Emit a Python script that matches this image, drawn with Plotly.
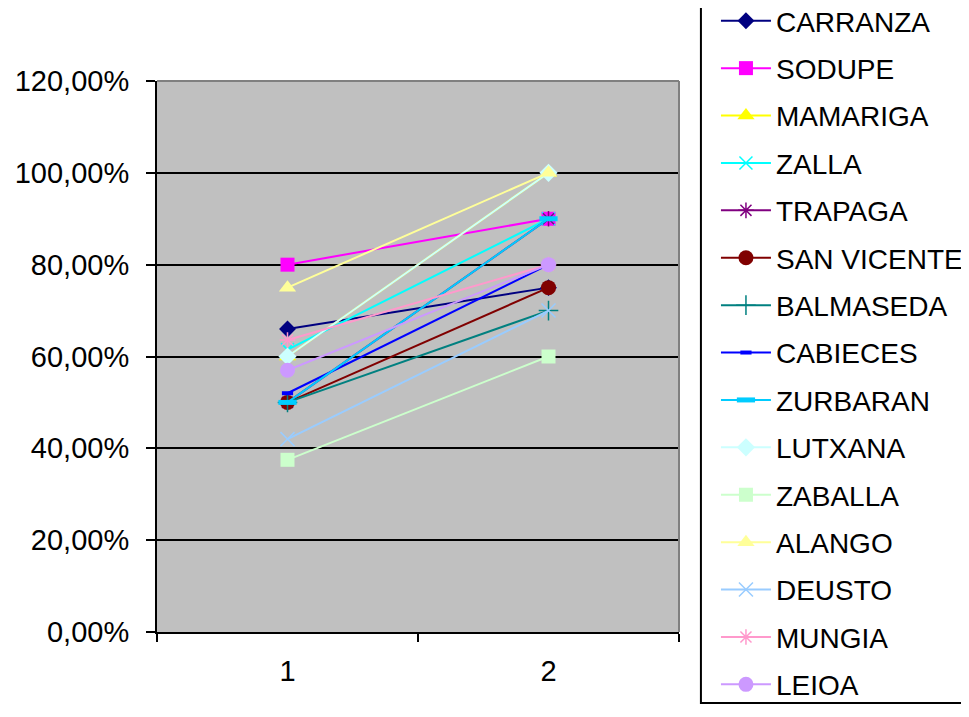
import plotly.graph_objects as go

x_vals = [1, 2]
names = ["CARRANZA", "SODUPE", "MAMARIGA", "ZALLA", "TRAPAGA", "SAN VICENTE",
         "BALMASEDA", "CABIECES", "ZURBARAN", "LUTXANA", "ZABALLA", "ALANGO",
         "DEUSTO", "MUNGIA", "LEIOA"]
carranza = [0.66, 0.75]
sodupe = [0.80, 0.90]
mamariga = [0.60, 1.00]
zalla = [0.615, 0.90]
trapaga = [0.50, 0.90]
san_vicente = [0.50, 0.75]
balmaseda = [0.50, 0.70]
cabieces = [0.52, 0.80]
zurbaran = [0.50, 0.90]
lutxana = [0.60, 1.00]
zaballa = [0.375, 0.60]
alango = [0.75, 1.00]
deusto = [0.42, 0.70]
mungia = [0.636, 0.80]
leioa = [0.57, 0.80]
series = [carranza, sodupe, mamariga, zalla, trapaga, san_vicente, balmaseda,
          cabieces, zurbaran, lutxana, zaballa, alango, deusto, mungia, leioa]

colors = ["#000080", "#FF00FF", "#FFFF00", "#00FFFF", "#800080", "#800000",
          "#008080", "#0000FF", "#00CCFF", "#CCFFFF", "#CCFFCC", "#FFFF99",
          "#99CCFF", "#FF99CC", "#CC99FF"]
symbols = ["diamond", "square", "triangle-up", "x-thin-open", "asterisk-open",
           "circle", "cross-thin-open", "line-ew-open", "line-ew-open", "diamond",
           "square", "triangle-up", "x-thin-open", "asterisk-open", "circle"]
sizes = [13, 14, 15, 13, 13, 15, 14, 8, 13, 14, 14, 15, 14, 13, 15]
lwidths = [0, 0, 0, 1.5, 1.5, 0, 1.5, 4, 5, 0, 0, 0, 1.5, 1.5, 0]

fig = go.Figure()
for i, (n, v) in enumerate(zip(names, series)):
    fig.add_trace(go.Scatter(
        x=x_vals, y=v, name=n, mode="lines+markers",
        legendgroup=n,
        line=dict(color=colors[i], width=2),
        marker=dict(symbol=symbols[i], size=sizes[i], color=colors[i],
                    line=dict(color=colors[i], width=lwidths[i])),
    ))

# figure is offset by the page's 8px body margin
fig.update_layout(
    width=961, height=709,
    margin=dict(l=149, r=290, t=73, b=85, autoexpand=False),
    paper_bgcolor="white", plot_bgcolor="#C0C0C0",
    font=dict(family="Liberation Sans, Arial", size=29, color="black"),
    separators=",.",
    showlegend=True,
    legend=dict(x=1.0708, xanchor="left", y=1.1542, yanchor="top",
                borderwidth=0, bgcolor="rgba(0,0,0,0)",
                tracegroupgap=8, itemwidth=50, maxheight=2000,
                font=dict(size=28, family="Liberation Sans, Arial")),
    xaxis=dict(range=[0.5, 2.5], tickvals=[1, 2], ticktext=["1", "2"],
               ticks="", showgrid=False, zeroline=False,
               showline=True, linecolor="black", linewidth=2,
               ticklabelstandoff=12,
               minor=dict(tickvals=[0.5, 1.5, 2.5], ticks="outside",
                          ticklen=8, tickwidth=2, tickcolor="black")),
    yaxis=dict(range=[0, 1.2], tickvals=[0, 0.2, 0.4, 0.6, 0.8, 1.0, 1.2],
               tickformat=".2%", ticks="outside", ticklen=9, tickwidth=2,
               tickcolor="black", showgrid=True, gridcolor="black", gridwidth=2,
               zeroline=False, showline=True, linecolor="black", linewidth=2,
               ticklabelstandoff=11),
    shapes=[
        dict(type="line", xref="paper", yref="paper", x0=0, x1=1, y0=1, y1=1,
             line=dict(color="#808080", width=2)),
        dict(type="line", xref="paper", yref="paper", x0=1, x1=1, y0=0, y1=1,
             line=dict(color="#808080", width=2)),
        dict(type="rect", xref="paper", yref="paper", x0=1.042, x1=1.8,
             y0=-0.1289, y1=1.3, layer="below", fillcolor="white",
             line=dict(color="black", width=2)),
    ],
)

fig.write_html("out.html")
